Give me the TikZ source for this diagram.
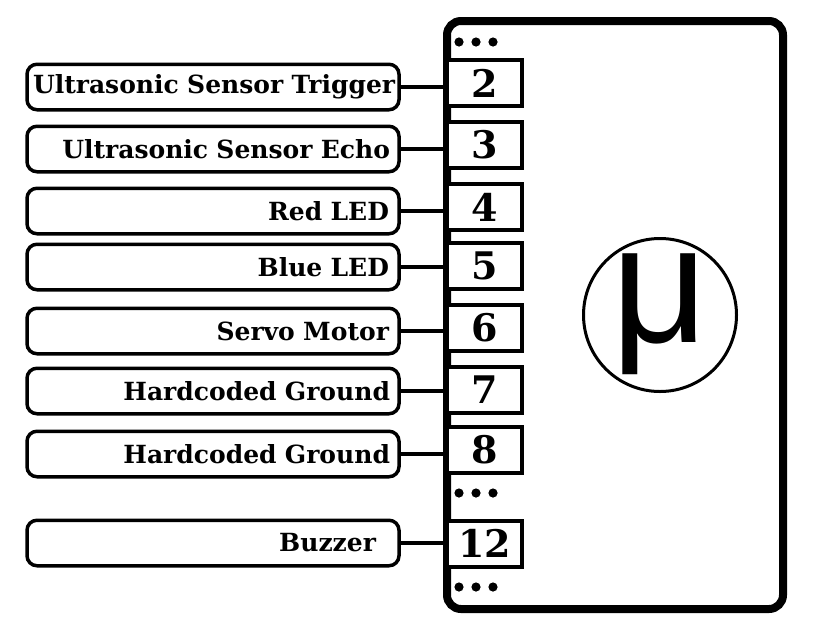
\documentclass[tikz,border=0pt]{standalone}
\usepackage{fontspec}
\setmainfont{DejaVu Serif}
\newfontfamily\mufont{Liberation Sans}
\begin{document}
\begin{tikzpicture}[x=1pt,y=-1pt,
  lbl/.style={draw, line width=3.5pt, rounded corners=10pt, minimum height=45.5pt,
    inner xsep=6pt, inner ysep=0pt, text width=360pt, align=right,
    font=\fontsize{25}{25}\selectfont\bfseries},
  pinbox/.style={draw, fill=white, line width=4pt, minimum width=75pt, minimum height=46pt,
    inner sep=0pt, font=\fontsize{38}{38}\selectfont\bfseries},
  conn/.style={line width=4pt},
  dotmark/.style={fill=black}]
\fill[white] (0,0) rectangle (813,635);
\useasboundingbox (0,0) rectangle (813,635);

% microcontroller body
\node (mcu) [draw, line width=8pt, rounded corners=14pt, minimum width=336pt,
  minimum height=588pt, inner sep=0pt] at (615,315) {};

% pins
\node (p2)  [pinbox] at (484.5,83)    {2};
\node (p3)  [pinbox] at (484.5,145)   {3};
\node (p4)  [pinbox] at (484.5,207)   {4};
\node (p5)  [pinbox] at (484.5,266)   {5};
\node (p6)  [pinbox] at (484.5,328)   {6};
\node (p7)  [pinbox] at (484.5,389.5) {7};
\node (p8)  [pinbox] at (484.5,450)   {8};
\node (p12) [pinbox] at (484.5,543.5) {12};

% labels
\node (l2)  [lbl] at (213,87)  {\mbox{Ultrasonic Sensor Trigger}};
\node (l3)  [lbl] at (213,149) {\mbox{Ultrasonic Sensor Echo\kern3pt}};
\node (l4)  [lbl] at (213,211) {\mbox{Red LED\kern4pt}};
\node (l5)  [lbl] at (213,267) {\mbox{Blue LED\kern4pt}};
\node (l6)  [lbl] at (213,331) {\mbox{Servo Motor\kern4pt}};
\node (l7)  [lbl] at (213,391) {\mbox{Hardcoded Ground\kern3pt}};
\node (l8)  [lbl] at (213,454) {\mbox{Hardcoded Ground\kern3pt}};
\node (l12) [lbl] at (213,543) {\mbox{Buzzer\kern17pt}};

% connectors
\foreach \l/\p in {l2/p2,l3/p3,l4/p4,l5/p5,l6/p6,l7/p7,l8/p8,l12/p12}
  \draw[conn] (\l.east) -- (\l.east -| mcu.west);

% ellipsis marks
\foreach \yy in {42,493,587}
  \foreach \xx in {459,476,493}
    \fill[dotmark] (\xx,\yy) circle (4.6pt);

% micro symbol
\node (mucircle) [draw, circle, line width=3pt, minimum size=153pt, inner sep=0pt] at (660,315) {};
\node (mu) [anchor=base, inner sep=0pt, font=\mufont\fontsize{168}{168}\selectfont] at (660,342) {μ};
\end{tikzpicture}
\end{document}
